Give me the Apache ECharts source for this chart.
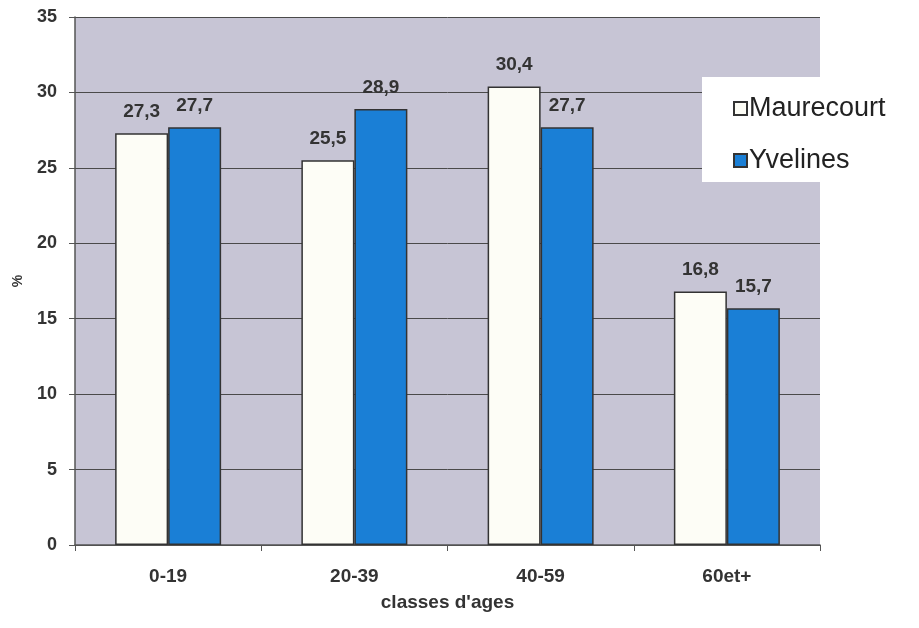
<!DOCTYPE html>
<html>
<head>
<meta charset="utf-8">
<script src="https://cdn.jsdelivr.net/npm/echarts@6/dist/echarts.min.js"></script>
<style>
  html, body { margin: 0; padding: 0; background: #ffffff; }
  #chart { width: 919px; height: 628px; }
</style>
</head>
<body>
<div id="chart"></div>
<script>
// Age-class distribution (%), commune vs. département
const categories = ['0-19', '20-39', '40-59', '60et+'];
const maurecourt = [27.3, 25.5, 30.4, 16.8];
const yvelines = [27.7, 28.9, 27.7, 15.7];
const seriesNames = ['Maurecourt', 'Yvelines'];

const FONT = '"Liberation Sans", Arial, sans-serif';
const fmt = p => String(p.value).replace('.', ',');

const chart = echarts.init(document.getElementById('chart'));
chart.setOption({
  backgroundColor: '#ffffff',
  animation: false,
  grid: { left: 75, top: 17, width: 745, height: 528 },
  legend: {
    orient: 'vertical',
    left: 702,
    top: 77,
    backgroundColor: '#ffffff',
    padding: [18, 60, 8, 31],
    itemGap: 25,
    itemWidth: 13,
    itemHeight: 13,
    icon: 'rect',
    textStyle: { fontFamily: FONT, fontSize: 27, color: '#222', padding: [0, 0, 0, -3] },
    data: seriesNames
  },
  xAxis: {
    type: 'category',
    data: categories,
    name: "classes d'ages",
    nameLocation: 'middle',
    nameGap: 48,
    nameTextStyle: { fontFamily: FONT, fontSize: 19, fontWeight: 'bold', color: '#333' },
    axisLine: { lineStyle: { color: '#555', width: 1.5 } },
    axisTick: { show: true, length: 6, lineStyle: { color: '#555' } },
    axisLabel: { fontFamily: FONT, fontSize: 19, fontWeight: 'bold', color: '#333', margin: 22 },
    splitLine: { show: false }
  },
  yAxis: {
    type: 'value',
    min: 0,
    max: 35,
    interval: 5,
    name: '%',
    nameLocation: 'middle',
    nameGap: 50,
    nameRotate: 90,
    nameTextStyle: { fontFamily: FONT, fontSize: 14, fontWeight: 'bold', color: '#333' },
    axisLine: { show: true, lineStyle: { color: '#555', width: 1.5 } },
    axisTick: { show: true, length: 6, lineStyle: { color: '#555' } },
    axisLabel: { fontFamily: FONT, fontSize: 18, fontWeight: 'bold', color: '#333', margin: 18 },
    splitLine: { show: true, lineStyle: { color: '#4a4a4a', width: 1 } },
    splitArea: { show: true, areaStyle: { color: ['#c7c5d5', '#c7c5d5'] } }
  },
  series: [
    {
      name: seriesNames[0],
      type: 'bar',
      data: maurecourt,
      barWidth: 53,
      barGap: '0%',
      itemStyle: { color: '#fdfdf6', borderColor: '#333', borderWidth: 1.5 },
      label: { show: true, position: 'top', distance: 12, formatter: fmt,
               fontFamily: FONT, fontSize: 19, fontWeight: 'bold', color: '#333' }
    },
    {
      name: seriesNames[1],
      type: 'bar',
      data: yvelines,
      barWidth: 53,
      barGap: '0%',
      itemStyle: { color: '#1a7fd6', borderColor: '#333', borderWidth: 1.5 },
      label: { show: true, position: 'top', distance: 12, formatter: fmt,
               fontFamily: FONT, fontSize: 19, fontWeight: 'bold', color: '#333' }
    }
  ]
});
</script>
</body>
</html>
